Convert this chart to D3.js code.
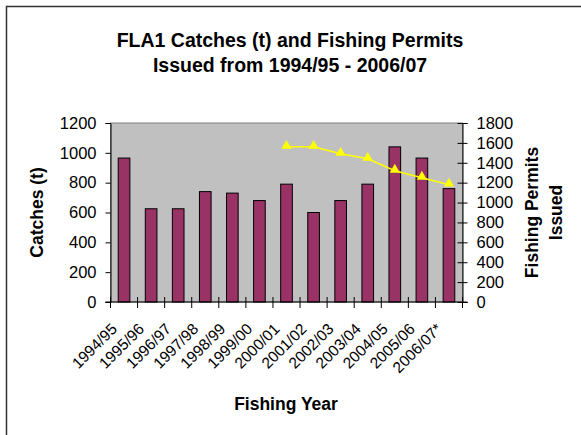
<!DOCTYPE html>
<html lang="en">
<head>
  <meta charset="utf-8">
  <title>FLA1 catches</title>
  <script src="https://cdn.jsdelivr.net/npm/d3@7"></script>
  <style>
    body { margin: 0; background: #fff; }
    text { font-family: Arial, "Liberation Sans", sans-serif; fill: #000; }
  </style>
</head>
<body>
  <div id="chart"></div>
  <script>
    var years = ["1994/95", "1995/96", "1996/97", "1997/98", "1998/99", "1999/00", "2000/01",
      "2001/02", "2002/03", "2003/04", "2004/05", "2005/06", "2006/07*"];
    var catches = [965, 625, 625, 740, 730, 680, 790, 600, 680, 790, 1040, 965, 760];
    // permits only from 2000/01 onwards
    var permitYears = ["2000/01", "2001/02", "2002/03", "2003/04", "2004/05", "2005/06", "2006/07*"];
    var permits = [1560, 1560, 1490, 1440, 1320, 1250, 1180];
    var leftTicks = [0, 200, 400, 600, 800, 1000, 1200];
    var rightTicks = [0, 200, 400, 600, 800, 1000, 1200, 1400, 1600, 1800];

    var width = 581, height = 435;
    var plot = { left: 110.5, right: 462.5, top: 123, bottom: 302 };

    var svg = d3.select('#chart')
      .append('svg')
      .attr('width', width)
      .attr('height', height);

    // outer chart border (only left/top visible in frame)
    svg.append('rect')
      .attr('x', 6.5)
      .attr('y', 6.5)
      .attr('width', 600)
      .attr('height', 460)
      .style('fill', '#fff')
      .style('stroke', '#333')
      .style('stroke-width', 1.5);

    svg.append('text')
      .attr('x', 290)
      .attr('y', 47)
      .attr('text-anchor', 'middle')
      .style('font-size', '19.5px')
      .style('font-weight', 'bold')
      .text('FLA1 Catches (t) and Fishing Permits');
    svg.append('text')
      .attr('x', 290)
      .attr('y', 72)
      .attr('text-anchor', 'middle')
      .style('font-size', '19.5px')
      .style('font-weight', 'bold')
      .text('Issued from 1994/95 - 2006/07');

    var x = d3.scaleBand()
      .domain(years)
      .range([plot.left, plot.right])
      .paddingInner(0.57)
      .paddingOuter(0.285);
    var xCenter = d3.scalePoint()
      .domain(years)
      .range([plot.left, plot.right])
      .padding(0.5);
    var yLeft = d3.scaleLinear().domain([0, 1200]).range([plot.bottom, plot.top]);
    var yRight = d3.scaleLinear().domain([0, 1800]).range([plot.bottom, plot.top]);

    svg.append('rect')
      .attr('x', plot.left)
      .attr('y', plot.top)
      .attr('width', plot.right - plot.left)
      .attr('height', plot.bottom - plot.top)
      .style('fill', '#c0c0c0')
      .style('stroke', '#808080')
      .style('stroke-width', 1);

    svg.append('g')
      .selectAll('rect')
      .data(catches)
      .enter()
      .append('rect')
      .attr('x', (d, i) => x(years[i]))
      .attr('y', d => yLeft(d))
      .attr('width', x.bandwidth())
      .attr('height', d => yLeft(0) - yLeft(d))
      .style('fill', '#993366')
      .style('stroke', '#000')
      .style('stroke-width', 1);

    // permits line
    var line = d3.line()
      .x((d, i) => xCenter(permitYears[i]))
      .y(d => yRight(d));
    svg.append('path')
      .datum(permits)
      .attr('d', line)
      .style('fill', 'none')
      .style('stroke', '#ffff00')
      .style('stroke-width', 1.5);
    svg.append('g')
      .selectAll('path')
      .data(permits)
      .enter()
      .append('path')
      .attr('d', d3.symbol().type(d3.symbolTriangle).size(45))
      .attr('transform', (d, i) => 'translate(' + xCenter(permitYears[i]) + ',' + (yRight(d) - 1) + ')')
      .style('fill', '#ffff00');

    var fmt = d3.format('d');
    // left axis
    var leftAxis = svg.append('g')
      .attr('transform', 'translate(' + plot.left + ',0)')
      .call(d3.axisLeft(yLeft).tickValues(leftTicks).tickFormat(fmt).tickSize(5).tickPadding(9));
    // right axis
    var rightAxis = svg.append('g')
      .attr('transform', 'translate(' + plot.right + ',0)')
      .call(d3.axisRight(yRight).tickValues(rightTicks).tickFormat(fmt).tickSize(5).tickPadding(9));
    rightAxis.selectAll('.tick line').attr('x1', -5);

    // bottom axis with ticks between categories
    var bottom = svg.append('g');
    bottom.append('line')
      .attr('x1', plot.left - 5).attr('x2', plot.right + 5)
      .attr('y1', plot.bottom).attr('y2', plot.bottom)
      .style('stroke', '#000');
    var edges = d3.range(years.length + 1).map(i => plot.left + i * x.step());
    bottom.selectAll('line.tk')
      .data(edges)
      .enter()
      .append('line')
      .attr('class', 'tk')
      .attr('x1', d => d).attr('x2', d => d)
      .attr('y1', plot.bottom - 5).attr('y2', plot.bottom + 6)
      .style('stroke', '#000');

    [leftAxis, rightAxis].forEach(g => {
      g.select('.domain').style('stroke', '#000');
      g.selectAll('.tick line').style('stroke', '#000');
      g.selectAll('.tick text').style('font-size', '16.5px').attr('font-family', null);
    });

    bottom.selectAll('text')
      .data(years)
      .enter()
      .append('text')
      .attr('text-anchor', 'end')
      .attr('transform', d => 'translate(' + (xCenter(d) - 6) + ',' + (plot.bottom + 28) + ') rotate(-45)')
      .style('font-size', '15.5px')
      .text(d => d);

    // axis titles
    svg.append('text')
      .attr('transform', 'translate(43,' + ((plot.top + plot.bottom) / 2) + ') rotate(-90)')
      .attr('text-anchor', 'middle')
      .style('font-size', '17.5px')
      .style('font-weight', 'bold')
      .text('Catches (t)');
    svg.append('text')
      .attr('transform', 'translate(538,' + ((plot.top + plot.bottom) / 2) + ') rotate(-90)')
      .attr('text-anchor', 'middle')
      .style('font-size', '17.5px')
      .style('font-weight', 'bold')
      .text('Fishing Permits');
    svg.append('text')
      .attr('transform', 'translate(562,' + ((plot.top + plot.bottom) / 2) + ') rotate(-90)')
      .attr('text-anchor', 'middle')
      .style('font-size', '17.5px')
      .style('font-weight', 'bold')
      .text('Issued');
    svg.append('text')
      .attr('x', 286)
      .attr('y', 410)
      .attr('text-anchor', 'middle')
      .style('font-size', '17.5px')
      .style('font-weight', 'bold')
      .text('Fishing Year');
  </script>
</body>
</html>
